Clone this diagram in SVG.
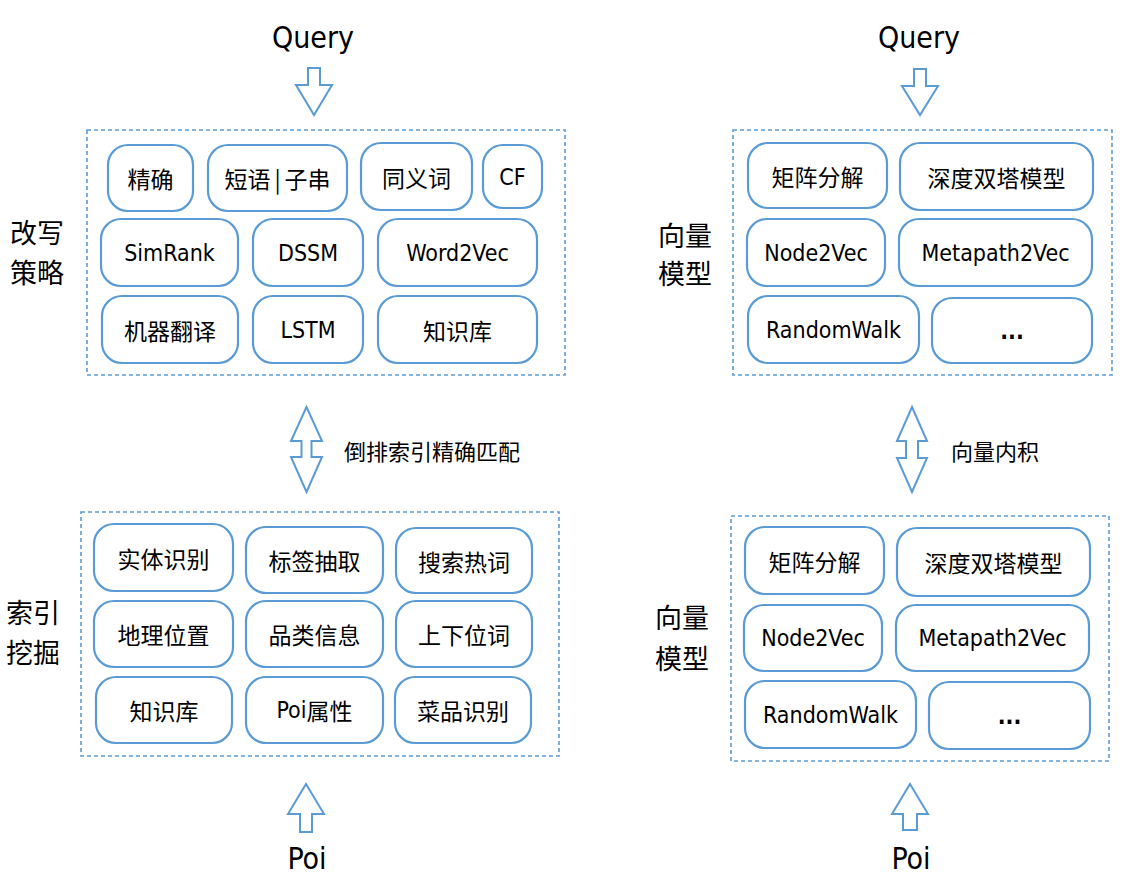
<svg xmlns="http://www.w3.org/2000/svg" width="1128" height="882" viewBox="0 0 1128 882">
<style>
.bg{fill:#ffffff}
.grp{fill:none;stroke:#5b9bd5;stroke-width:1.6;stroke-dasharray:4 3}
.node rect{fill:#ffffff;stroke:#5b9bd5;stroke-width:2.2}
.arrow{fill:#ffffff;stroke:#5b9bd5;stroke-width:2;stroke-linejoin:miter}
text{font-family:"DejaVu Sans Condensed","DejaVu Sans","Noto Sans CJK SC",sans-serif;font-stretch:condensed;fill:#000000;text-anchor:middle;dominant-baseline:central}
.lat{font-size:23px}
.dots{font-size:23px;font-weight:bold}
.cjk{font-size:23px;font-family:"Noto Sans CJK SC",sans-serif}
.big{font-size:30px}
.side{font-size:27px;font-family:"Noto Sans CJK SC",sans-serif}
.lbl{font-size:22px;font-family:"Noto Sans CJK SC",sans-serif;text-anchor:start}
</style>
<rect class="bg" x="0" y="0" width="1128" height="882"/>

<!-- top/bottom terminal labels -->
<g id="query-left"><text class="big" x="313" y="37">Query</text></g>
<g id="query-right"><text class="big" x="919" y="37">Query</text></g>
<g id="poi-left"><text class="big" x="307" y="858">Poi</text></g>
<g id="poi-right"><text class="big" x="911" y="858">Poi</text></g>

<!-- side labels -->
<g id="label-rewrite"><text class="side" x="37" y="231">改写</text><text class="side" x="37" y="271">策略</text></g>
<g id="label-index"><text class="side" x="33" y="611">索引</text><text class="side" x="33" y="651">挖掘</text></g>
<g id="label-vec-top"><text class="side" x="685" y="234">向量</text><text class="side" x="685" y="272">模型</text></g>
<g id="label-vec-bottom"><text class="side" x="682" y="616">向量</text><text class="side" x="682" y="657">模型</text></g>

<!-- connectors -->
<g id="connectors">
<path class="arrow" d="M308,68 H320 V85 H332 L314,115 L296,85 H308 Z"/>
<path class="arrow" d="M914,69 H926 V86 H938 L920,115 L902,86 H914 Z"/>
<path class="arrow" d="M306.5,407 L322,441 H311.5 V457 H322 L306.5,492 L291,457 H301.5 V441 H291 Z"/>
<path class="arrow" d="M912,407 L927,441 H918 V458 H927 L912,492 L897,458 H906 V441 H897 Z"/>
<path class="arrow" d="M306,784 L324,814 H312 V832 H300 V814 H288 Z"/>
<path class="arrow" d="M910,784 L928,814 H917 V830 H903 V814 H892 Z"/>
<text class="lbl" x="344" y="450">倒排索引精确匹配</text>
<text class="lbl" x="951" y="450">向量内积</text>
</g>

<!-- group boxes -->
<g id="group-rewrite"><rect class="grp" x="87" y="130" width="478" height="245"/></g>
<g id="group-index"><rect class="grp" x="81" y="512" width="478" height="244"/></g>
<g id="group-vec-top"><rect class="grp" x="733" y="130" width="379" height="245"/></g>
<g id="group-vec-bottom"><rect class="grp" x="731" y="516" width="378" height="245"/></g>

<!-- rewrite strategy nodes -->
<g id="n-jingque" class="node"><rect x="108" y="145" width="85" height="66" rx="20"/><text class="cjk" x="150.5" y="178">精确</text></g>
<g id="n-duanyu" class="node"><rect x="208" y="145" width="139" height="66" rx="20"/><text class="cjk" x="277.5" y="178">短语<tspan dx="4">|</tspan><tspan dx="4">子串</tspan></text></g>
<g id="n-tongyici" class="node"><rect x="361" y="143" width="111" height="67" rx="20"/><text class="cjk" x="416.5" y="177">同义词</text></g>
<g id="n-cf" class="node"><rect x="483" y="145" width="59" height="63" rx="20"/><text class="lat" x="512.5" y="177">CF</text></g>
<g id="n-simrank" class="node"><rect x="101" y="219" width="137" height="67" rx="20"/><text class="lat" x="169.5" y="252.5">SimRank</text></g>
<g id="n-dssm" class="node"><rect x="253" y="219" width="110" height="67" rx="20"/><text class="lat" x="308" y="252.5">DSSM</text></g>
<g id="n-word2vec" class="node"><rect x="378" y="219" width="159" height="67" rx="20"/><text class="lat" x="457.5" y="252.5">Word2Vec</text></g>
<g id="n-fanyi" class="node"><rect x="102" y="296" width="136" height="67" rx="20"/><text class="cjk" x="170" y="329.5">机器翻译</text></g>
<g id="n-lstm" class="node"><rect x="253" y="296" width="110" height="67" rx="20"/><text class="lat" x="308" y="329.5">LSTM</text></g>
<g id="n-zhishiku1" class="node"><rect x="378" y="296" width="159" height="67" rx="20"/><text class="cjk" x="457.5" y="329.5">知识库</text></g>

<!-- index mining nodes -->
<g id="n-shiti" class="node"><rect x="94" y="524" width="139" height="67" rx="20"/><text class="cjk" x="163.5" y="557.5">实体识别</text></g>
<g id="n-biaoqian" class="node"><rect x="246" y="527" width="137" height="66" rx="20"/><text class="cjk" x="314.5" y="560">标签抽取</text></g>
<g id="n-sousuo" class="node"><rect x="396" y="528" width="136" height="65" rx="20"/><text class="cjk" x="464" y="560.5">搜索热词</text></g>
<g id="n-dili" class="node"><rect x="94" y="601" width="139" height="66" rx="20"/><text class="cjk" x="163.5" y="634">地理位置</text></g>
<g id="n-pinlei" class="node"><rect x="246" y="601" width="137" height="66" rx="20"/><text class="cjk" x="314.5" y="634">品类信息</text></g>
<g id="n-shangxia" class="node"><rect x="396" y="601" width="136" height="66" rx="20"/><text class="cjk" x="464" y="634">上下位词</text></g>
<g id="n-zhishiku2" class="node"><rect x="96" y="677" width="136" height="66" rx="20"/><text class="cjk" x="164" y="710">知识库</text></g>
<g id="n-poishuxing" class="node"><rect x="246" y="677" width="137" height="66" rx="20"/><text x="314.5" y="710"><tspan class="lat">Poi</tspan><tspan class="cjk">属性</tspan></text></g>
<g id="n-caipin" class="node"><rect x="395" y="677" width="136" height="66" rx="20"/><text class="cjk" x="463" y="710">菜品识别</text></g>

<!-- vector model nodes (top) -->
<g id="n-mf1" class="node"><rect x="748" y="143" width="139" height="65" rx="20"/><text class="cjk" x="817.5" y="175.5">矩阵分解</text></g>
<g id="n-twotower1" class="node"><rect x="900" y="143" width="193" height="67" rx="20"/><text class="cjk" x="996.5" y="176.5">深度双塔模型</text></g>
<g id="n-node2vec1" class="node"><rect x="747" y="219" width="138" height="67" rx="20"/><text class="lat" x="816" y="252.5">Node2Vec</text></g>
<g id="n-metapath1" class="node"><rect x="899" y="219" width="193" height="67" rx="20"/><text class="lat" x="995.5" y="252.5">Metapath2Vec</text></g>
<g id="n-randomwalk1" class="node"><rect x="748" y="296" width="171" height="67" rx="20"/><text class="lat" x="833.5" y="329.5">RandomWalk</text></g>
<g id="n-etc1" class="node"><rect x="932" y="298" width="160" height="65" rx="20"/><text class="dots" x="1012" y="330.5">...</text></g>

<!-- vector model nodes (bottom) -->
<g id="n-mf2" class="node"><rect x="745" y="527" width="139" height="67" rx="20"/><text class="cjk" x="814.5" y="560.5">矩阵分解</text></g>
<g id="n-twotower2" class="node"><rect x="897" y="528" width="193" height="68" rx="20"/><text class="cjk" x="993.5" y="562">深度双塔模型</text></g>
<g id="n-node2vec2" class="node"><rect x="744" y="605" width="138" height="66" rx="20"/><text class="lat" x="813" y="638">Node2Vec</text></g>
<g id="n-metapath2" class="node"><rect x="896" y="605" width="193" height="66" rx="20"/><text class="lat" x="992.5" y="638">Metapath2Vec</text></g>
<g id="n-randomwalk2" class="node"><rect x="745" y="681" width="171" height="67" rx="20"/><text class="lat" x="830.5" y="714.5">RandomWalk</text></g>
<g id="n-etc2" class="node"><rect x="929" y="682" width="161" height="67" rx="20"/><text class="dots" x="1009.5" y="715.5">...</text></g>
</svg>
